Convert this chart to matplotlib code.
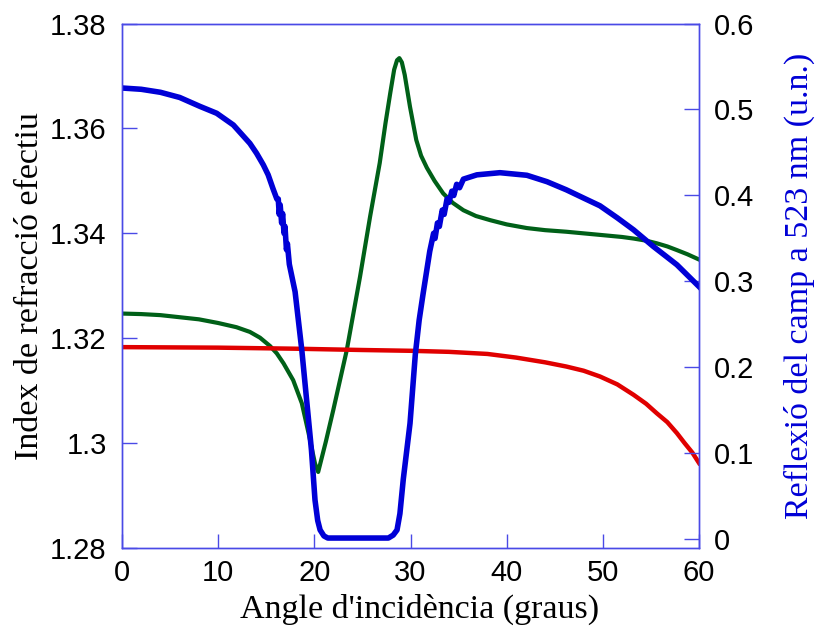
import matplotlib.pyplot as plt
from matplotlib.ticker import FixedLocator, FuncFormatter

# angle (degrees) and effective index, green curve
ang_green = [0, 2, 4, 6, 8, 10, 11.9, 13.3, 14.35, 15.4, 16.1, 16.8, 17.8,
             18.7, 19.4, 20.07, 20.4, 21.2, 21.97, 23.37, 24.75, 25.8, 26.8,
             27.4, 27.9, 28.3, 28.6, 28.84, 29.1, 29.4, 29.95, 30.6, 31.1,
             31.7, 32.5, 33.4, 34.4, 35.5, 36.8, 38.3, 40, 42.1, 44, 46.2,
             49.7, 52, 53.2, 54.5, 55.6, 56.7, 57.7, 58.8, 60]
n_green = [1.3247, 1.3246, 1.3244, 1.3240, 1.3236, 1.3229, 1.3221, 1.3212,
           1.3201, 1.3185, 1.3171, 1.3152, 1.3120, 1.3076, 1.3019, 1.2961,
           1.2945, 1.3003, 1.3063, 1.3177, 1.3317, 1.3432, 1.3534, 1.3610,
           1.3668, 1.3712, 1.3730, 1.3734, 1.3726, 1.3702, 1.3641, 1.3578,
           1.3548, 1.3525, 1.3500, 1.3476, 1.3458, 1.3444, 1.3433, 1.3425,
           1.3417, 1.3410, 1.3406, 1.3403, 1.3397, 1.3393, 1.3390, 1.3386,
           1.3381, 1.3375, 1.3368, 1.3360, 1.3350]

# effective index, red curve
ang_red = [0, 10, 18, 25, 30, 34, 38, 41, 44, 46.2, 48, 49.7, 51.5, 53.2,
           54.5, 55.6, 56.7, 57.7, 58.5, 59.3, 60]
n_red = [1.3183, 1.3182, 1.3180, 1.31775, 1.3176, 1.3174, 1.3170, 1.3163,
         1.3154, 1.3146, 1.3138, 1.3127, 1.3112, 1.3092, 1.3075, 1.3057,
         1.3040, 1.3019, 1.3000, 1.2982, 1.2962]

# reflected field at 523 nm, blue curve (right axis)
ang_blue = [0, 2, 4, 6, 8.11, 9.85, 11.58, 13.3, 14.0, 14.7, 15.2, 15.7,
            16.1, 16.25, 16.35, 16.45, 16.6, 16.7, 16.85, 16.95, 17.1, 17.2,
            17.4, 18.0, 18.7, 19.2, 19.7, 20.07, 20.35, 20.6, 21.0, 21.4,
            27.7, 28.2, 28.6, 28.9, 29.25, 29.95, 30.5, 30.9, 31.3, 32.0,
            32.4, 32.55, 32.8, 33.0, 33.3, 33.5, 33.8, 34.0, 34.3, 34.5,
            34.8, 35.1, 35.5, 36.9, 39.3, 42.1, 44.2, 46.2, 48, 49.7, 51.5,
            53.2, 55.25, 56.6, 57.7, 60]
r_blue = [0.525, 0.5235, 0.520, 0.514, 0.5036, 0.4956, 0.482, 0.4606, 0.449,
          0.4355, 0.424, 0.408, 0.396, 0.396, 0.378, 0.389, 0.368, 0.379,
          0.356, 0.364, 0.337, 0.344, 0.320, 0.288, 0.220, 0.162, 0.104,
          0.0458, 0.022, 0.011, 0.004, 0.0016, 0.0016, 0.005, 0.011, 0.03,
          0.07, 0.135, 0.215, 0.255, 0.285, 0.335, 0.356, 0.350, 0.368,
          0.364, 0.383, 0.378, 0.396, 0.392, 0.405, 0.400, 0.413, 0.409,
          0.419, 0.424, 0.4265, 0.4235, 0.416, 0.4066, 0.397, 0.388, 0.374,
          0.360, 0.3407, 0.329, 0.3194, 0.294]

x_ticks = [0, 10, 20, 30, 40, 50, 60]
left_ticks = [1.28, 1.30, 1.32, 1.34, 1.36, 1.38]
right_ticks = [0, 0.1, 0.2, 0.3, 0.4, 0.5, 0.6]

spine_col = '#4a4ae6'
blue = '#0000d6'
green = '#006018'
red = '#e00000'

fig = plt.figure(figsize=(8.17, 6.32), dpi=100)
ax = fig.add_axes([0.1493, 0.1329, 0.7063, 0.8299])
ax2 = ax.twinx()

ax.plot(ang_green, n_green, color=green, lw=3.0, solid_joinstyle='round')
ax.plot(ang_red, n_red, color=red, lw=3.2)
ax2.plot(ang_blue, r_blue, color=blue, lw=4.0, solid_joinstyle='round')

ax.set_xlim(0, 60)
ax.set_ylim(1.28, 1.38)
ax2.set_ylim(-0.01, 0.6)

fmt = FuncFormatter(lambda v, p: '%g' % round(v, 3))
ax.xaxis.set_major_locator(FixedLocator(x_ticks))
ax.yaxis.set_major_locator(FixedLocator(left_ticks))
ax2.yaxis.set_major_locator(FixedLocator(right_ticks))
ax.yaxis.set_major_formatter(fmt)
ax2.yaxis.set_major_formatter(fmt)

for a in (ax, ax2):
    for s in a.spines.values():
        s.set_color(spine_col)
        s.set_linewidth(1.0)

ax.tick_params(axis='x', direction='in', length=10, width=1, color=spine_col,
               pad=8, labelsize=21, top=False)
ax.tick_params(axis='y', direction='in', length=11, width=1, color=spine_col,
               pad=11, labelsize=21, right=False)
ax2.tick_params(axis='y', direction='in', length=11, width=1, color=spine_col,
                pad=11, labelsize=21)
for lab in ax.get_xticklabels() + ax.get_yticklabels() + ax2.get_yticklabels():
    lab.set_family(['Liberation Sans', 'DejaVu Sans'])

serif = ['Liberation Serif', 'DejaVu Serif']
ax.set_xlabel("Angle d'incidència (graus)", family=serif, fontsize=24.5, labelpad=5)
ax.xaxis.label.set_x(0.516)
ax.set_ylabel("Index de refracció efectiu", family=serif, fontsize=24.5, labelpad=4)
ax2.set_ylabel("Reflexió del camp a 523 nm (u.n.)", family=serif, fontsize=24.5,
               color=blue, labelpad=21)

plt.savefig("out.png", dpi=100)
plt.close()
